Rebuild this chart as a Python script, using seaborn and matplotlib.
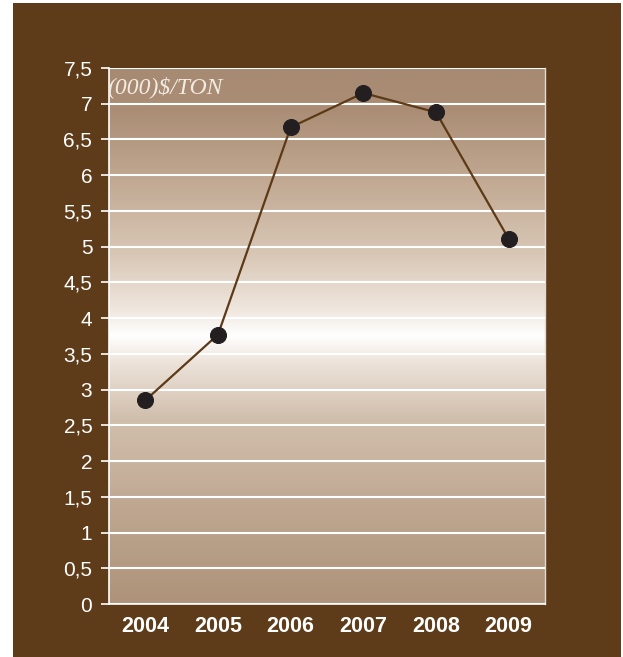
import numpy as np
import pandas as pd
import matplotlib
matplotlib.use("Agg")
import matplotlib.pyplot as plt
from matplotlib.colors import LinearSegmentedColormap
from matplotlib.patches import Rectangle
import seaborn as sns

years = ["2004", "2005", "2006", "2007", "2008", "2009"]
prices = [2.85, 3.77, 6.67, 7.15, 6.88, 5.11]
y_ticks = [0, 0.5, 1, 1.5, 2, 2.5, 3, 3.5, 4, 4.5, 5, 5.5, 6, 6.5, 7, 7.5]
y_labels = ["0", "0,5", "1", "1,5", "2", "2,5", "3", "3,5", "4", "4,5", "5", "5,5", "6", "6,5", "7", "7,5"]
unit_label = "(000)$/TON"

df = pd.DataFrame({"year": years, "price": prices})

sns.set_theme(style="white")
plt.rcParams["font.family"] = ["Liberation Sans", "DejaVu Sans"]

BROWN = "#5E3C1A"
fig = plt.figure(figsize=(6.23, 6.57), dpi=100, facecolor="white")
fig.patches.append(Rectangle((13 / 623, 0), (621 - 13) / 623, 654 / 657,
                             transform=fig.transFigure, facecolor=BROWN,
                             edgecolor="none", zorder=-10))

ax = fig.add_axes([109 / 623, 53 / 657, 436 / 623, 536 / 657])
ax.set_facecolor("none")

# vertical gradient background
cmap = LinearSegmentedColormap.from_list(
    "bg",
    [(0.0, "#AE937A"), (0.15, "#BBA38C"), (0.35, "#D2C0AE"), (0.45, "#EDE3DA"),
     (0.5, "#FFFFFF"), (0.55, "#EFE6DE"), (0.65, "#D9C8B7"), (0.8, "#C0A790"),
     (0.92, "#AB8E75"), (1.0, "#A68A71")])
grad = np.linspace(0, 1, 512).reshape(-1, 1)
ax.imshow(grad, cmap=cmap, aspect="auto", extent=(-0.5, 5.5, 0, 7.5),
          origin="lower", zorder=0)

sns.lineplot(data=df, x="year", y="price", ax=ax, color="#5C3A17", lw=1.6,
             marker="o", markersize=11.5, markerfacecolor="#231F20",
             markeredgecolor="#231F20", zorder=5)

ax.set_xlim(-0.5, 5.5)
ax.set_ylim(0, 7.5)
ax.set_yticks(y_ticks)
ax.set_yticklabels(y_labels)
ax.yaxis.grid(True, color="white", lw=1.5, zorder=1)
ax.xaxis.grid(False)
ax.set_axisbelow(False)
for gl in ax.get_ygridlines():
    gl.set_zorder(1)

ax.set_xticks(range(len(years)))
ax.set_xticklabels(years, fontweight="bold")
ax.set_xticks(np.arange(-0.5, 6, 1), minor=True)
ax.tick_params(axis="x", which="major", length=0, pad=9, labelsize=15.5, labelcolor="white")
ax.tick_params(axis="x", which="minor", length=6, width=1.2, color="white", direction="out")
ax.tick_params(axis="y", which="major", length=6, width=1.2, color="white",
               direction="out", labelsize=15, labelcolor="white", pad=6, left=True)
ax.set_xlabel("")
ax.set_ylabel("")

for s in ["left", "bottom"]:
    ax.spines[s].set_color("white")
    ax.spines[s].set_linewidth(1.2)
ax.spines["right"].set_color("#E4DAD0")
ax.spines["right"].set_linewidth(1.0)
ax.spines["top"].set_visible(False)

ax.text(-0.52, 7.15, unit_label, family=["Liberation Serif", "DejaVu Serif"],
        style="italic", fontsize=17, color="#F2EBE3", ha="left",
        va="baseline", zorder=6)

fig.savefig("out.png", dpi=100, facecolor="white")
